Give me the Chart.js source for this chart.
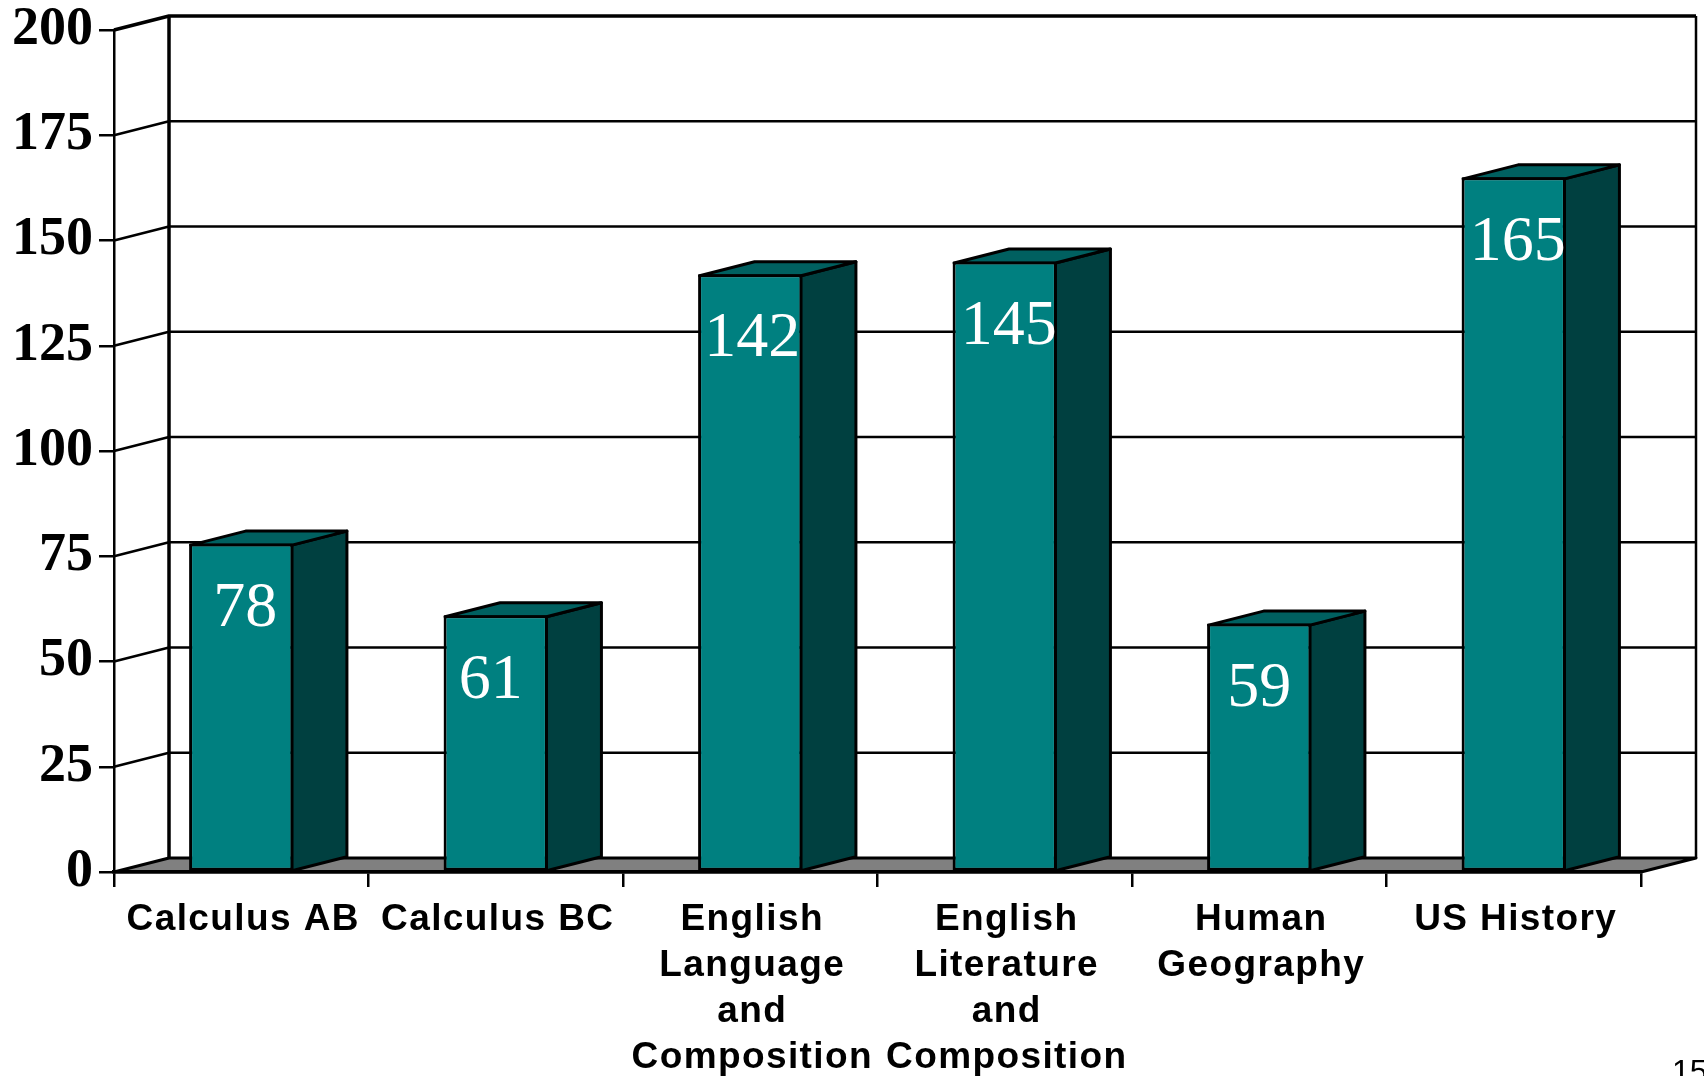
<!DOCTYPE html>
<html>
<head>
<meta charset="utf-8">
<title>AP exams</title>
<script src="https://cdn.jsdelivr.net/npm/chart.js@4"></script>
<style>
  html, body { margin: 0; padding: 0; background: #fff; overflow: hidden; }
  canvas { display: block; }
</style>
</head>
<body>
<canvas id="chart" width="1704" height="1076"></canvas>
<script>
var categories = [
  'Calculus AB',
  'Calculus BC',
  ['English', 'Language', 'and', 'Composition'],
  ['English', 'Literature', 'and', 'Composition'],
  ['Human', 'Geography'],
  'US History'
];
var students = [78, 61, 142, 145, 59, 165];
var yTicks = [0, 25, 50, 75, 100, 125, 150, 175, 200];
var pageNumber = '15';

// look of the fake 3d box
var depthX = 55, depthY = 14;
var frontColor = '#008080', sideColor = '#004040', topColor = '#006060', floorColor = '#808080';
var labelShift = [4, -5, 2, 4, 0, 4];

function line(ctx, pts, width) {
  ctx.beginPath();
  ctx.moveTo(pts[0][0], pts[0][1]);
  for (var i = 1; i < pts.length; i++) ctx.lineTo(pts[i][0], pts[i][1]);
  ctx.lineWidth = width;
  ctx.lineJoin = 'round';
  ctx.strokeStyle = '#000';
  ctx.stroke();
}

function face(ctx, pts, color) {
  ctx.beginPath();
  ctx.moveTo(pts[0][0], pts[0][1]);
  for (var i = 1; i < pts.length; i++) ctx.lineTo(pts[i][0], pts[i][1]);
  ctx.closePath();
  ctx.fillStyle = color;
  ctx.fill();
  ctx.lineWidth = 3;
  ctx.lineJoin = 'round';
  ctx.strokeStyle = '#000';
  ctx.stroke();
}

var box3d = {
  id: 'box3d',
  // the category labels in the original are set wider than the font is
  afterLayout: function (chart) {
    var s = chart.scales.x, orig = s.drawLabels;
    if (s.spaced) return;
    s.spaced = true;
    s.drawLabels = function (area) {
      chart.ctx.letterSpacing = '1.4px';
      orig.call(s, area);
      chart.ctx.letterSpacing = '0px';
    };
  },
  // back wall, slanted gridlines and the floor
  beforeDraw: function (chart) {
    var ctx = chart.ctx, a = chart.chartArea, y = chart.scales.y;
    var bx0 = a.left + depthX, bx1 = a.right + depthX;
    yTicks.forEach(function (t) {
      var py = y.getPixelForValue(t);
      if (t === 0) return;
      line(ctx, [[a.left, py], [bx0, py - depthY], [bx1, py - depthY]], t === 200 ? 3.5 : 2.5);
    });
    line(ctx, [[bx0, y.getPixelForValue(0) - depthY], [bx0, y.getPixelForValue(200) - depthY]], 3.5);
    line(ctx, [[bx1, y.getPixelForValue(0) - depthY], [bx1, y.getPixelForValue(200) - depthY]], 2.5);
    var base = y.getPixelForValue(0);
    face(ctx, [[a.left, base], [bx0, base - depthY], [bx1, base - depthY], [a.right, base]], floorColor);
  },
  // side and top of each bar, the front is the real bar
  // its border sits inside the bar rectangle, so pull the corners in by half a line
  beforeDatasetsDraw: function (chart) {
    var ctx = chart.ctx;
    chart.getDatasetMeta(0).data.forEach(function (bar) {
      var l = bar.x - bar.width / 2 + 1.5, r = bar.x + bar.width / 2 - 1.5, t = bar.y + 1.5, b = bar.base;
      face(ctx, [[r, t], [r + depthX, t - depthY], [r + depthX, b - depthY], [r, b]], sideColor);
      face(ctx, [[l, t], [l + depthX, t - depthY], [r + depthX, t - depthY], [r, t]], topColor);
    });
  },
  afterDatasetsDraw: function (chart) {
    var ctx = chart.ctx;
    ctx.save();
    ctx.fillStyle = '#fff';
    ctx.font = '64px "Liberation Serif"';
    ctx.textAlign = 'center';
    ctx.textBaseline = 'middle';
    chart.getDatasetMeta(0).data.forEach(function (bar, i) {
      ctx.fillText(students[i], bar.x + labelShift[i], bar.y + 65.5);
    });
    ctx.restore();
  },
  afterDraw: function (chart) {
    var ctx = chart.ctx;
    ctx.save();
    ctx.fillStyle = '#000';
    ctx.font = '32px "Liberation Sans"';
    ctx.textAlign = 'left';
    ctx.textBaseline = 'alphabetic';
    ctx.fillText(pageNumber, 1672, 1082);
    ctx.restore();
  }
};

var ctx = document.getElementById('chart').getContext('2d');
var chart = new Chart(ctx, {
  type: 'bar',
  data: {
    labels: categories,
    datasets: [{
      data: students,
      backgroundColor: frontColor,
      borderColor: '#000',
      borderWidth: 3,
      borderSkipped: false,
      barPercentage: 0.41,
      categoryPercentage: 1
    }]
  },
  options: {
    responsive: false,
    animation: false,
    layout: { padding: { left: 0, right: 63, top: 30, bottom: 0 } },
    plugins: { legend: { display: false }, tooltip: { enabled: false } },
    scales: {
      x: {
        afterFit: function (s) { s.height = 204; },
        border: { color: '#000', width: 3.5 },
        grid: { drawOnChartArea: false, color: '#000', tickLength: 15, lineWidth: 2.5, tickWidth: 2.5 },
        ticks: {
          color: '#000',
          autoSkip: false,
          maxRotation: 0,
          minRotation: 0,
          padding: 10,
          labelOffset: 2,
          font: { family: '"Liberation Sans"', weight: 'bold', size: 37, lineHeight: 1.245 }
        }
      },
      y: {
        min: 0,
        max: 200,
        afterFit: function (s) { s.width = 114; s.paddingTop = 0; s.paddingBottom = 0; },
        border: { color: '#000', width: 2.5 },
        grid: { drawOnChartArea: false, color: '#000', tickLength: 15, lineWidth: 2.5, tickWidth: 2.5 },
        ticks: {
          stepSize: 25,
          color: '#000',
          padding: 6,
          font: { family: '"Liberation Serif"', weight: 'bold', size: 54 }
        }
      }
    }
  },
  plugins: [box3d]
});
</script>
</body>
</html>
